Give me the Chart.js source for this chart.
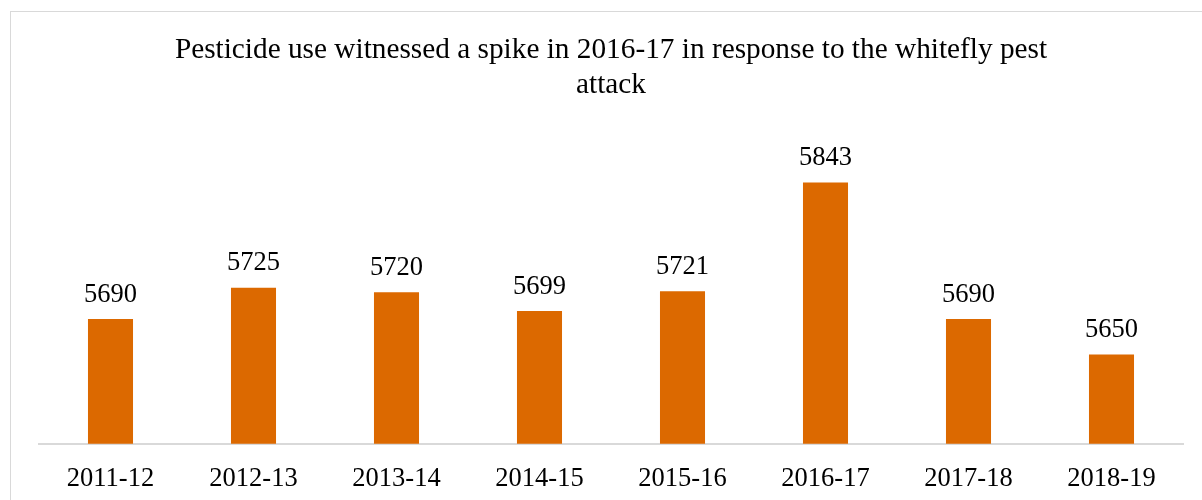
<!DOCTYPE html>
<html>
<head>
<meta charset="utf-8">
<script src="https://cdn.jsdelivr.net/npm/chart.js@4"></script>
<style>
    html, body { margin: 0; padding: 0; background: #fff; overflow: hidden; }
    #frame {
        position: absolute; left: 10px; top: 11px;
        width: 1220px; height: 520px;
        border: 1px solid #d9d9d9;
    }
    #wrap { position: absolute; left: 0; top: 0; width: 1202px; height: 504px; }
</style>
</head>
<body>
<div id="frame"></div>
<div id="wrap"><canvas id="pesticide-chart"></canvas></div>
<script>
// ─── Pesticide use (tonnes) by year ────────────────────────
const YEARS = ['2011-12', '2012-13', '2013-14', '2014-15', '2015-16', '2016-17', '2017-18', '2018-19'];
const USAGE = [5690, 5725, 5720, 5699, 5721, 5843, 5690, 5650];
const TITLE_LINES = ['Pesticide use witnessed a spike in 2016-17 in response to the whitefly pest', 'attack'];

const SERIF = '"Liberation Serif", "Times New Roman", serif';
const BAR_COLOR = '#dc6900';

// draws the value above each bar
const valueLabels = {
    id: 'valueLabels',
    afterDatasetsDraw(chart) {
        const ctx = chart.ctx;
        const meta = chart.getDatasetMeta(0);
        ctx.save();
        ctx.font = `26.5px ${SERIF}`;
        ctx.fillStyle = '#000';
        ctx.textAlign = 'center';
        ctx.textBaseline = 'bottom';
        meta.data.forEach((bar, i) => {
            ctx.fillText(String(USAGE[i]), bar.x, bar.y - 11);
        });
        ctx.restore();
    }
};

new Chart(document.getElementById('pesticide-chart'), {
    type: 'bar',
    data: {
        labels: YEARS,
        datasets: [{
            label: 'Pesticide use',
            data: USAGE,
            backgroundColor: BAR_COLOR,
            borderWidth: 0,
            barPercentage: 0.315,
            categoryPercentage: 1
        }]
    },
    options: {
        responsive: true,
        maintainAspectRatio: false,
        animation: false,
        layout: { padding: { left: 39, right: 19, top: 14, bottom: -9.5 } },
        plugins: {
            legend: { display: false },
            tooltip: { enabled: false },
            title: {
                display: true,
                text: TITLE_LINES,
                color: '#000',
                font: { family: SERIF, size: 29.3, weight: 'normal', lineHeight: 1.2 },
                padding: { top: 19, bottom: 28.5 }
            }
        },
        scales: {
            y: {
                display: false,
                min: 5550,
                max: 5900
            },
            x: {
                grid: { display: false, drawTicks: false },
                border: { display: true, color: '#d9d9d9', width: 2 },
                ticks: {
                    color: '#000',
                    padding: 19,
                    font: { family: SERIF, size: 26.5 }
                }
            }
        }
    },
    plugins: [valueLabels]
});
</script>
</body>
</html>
